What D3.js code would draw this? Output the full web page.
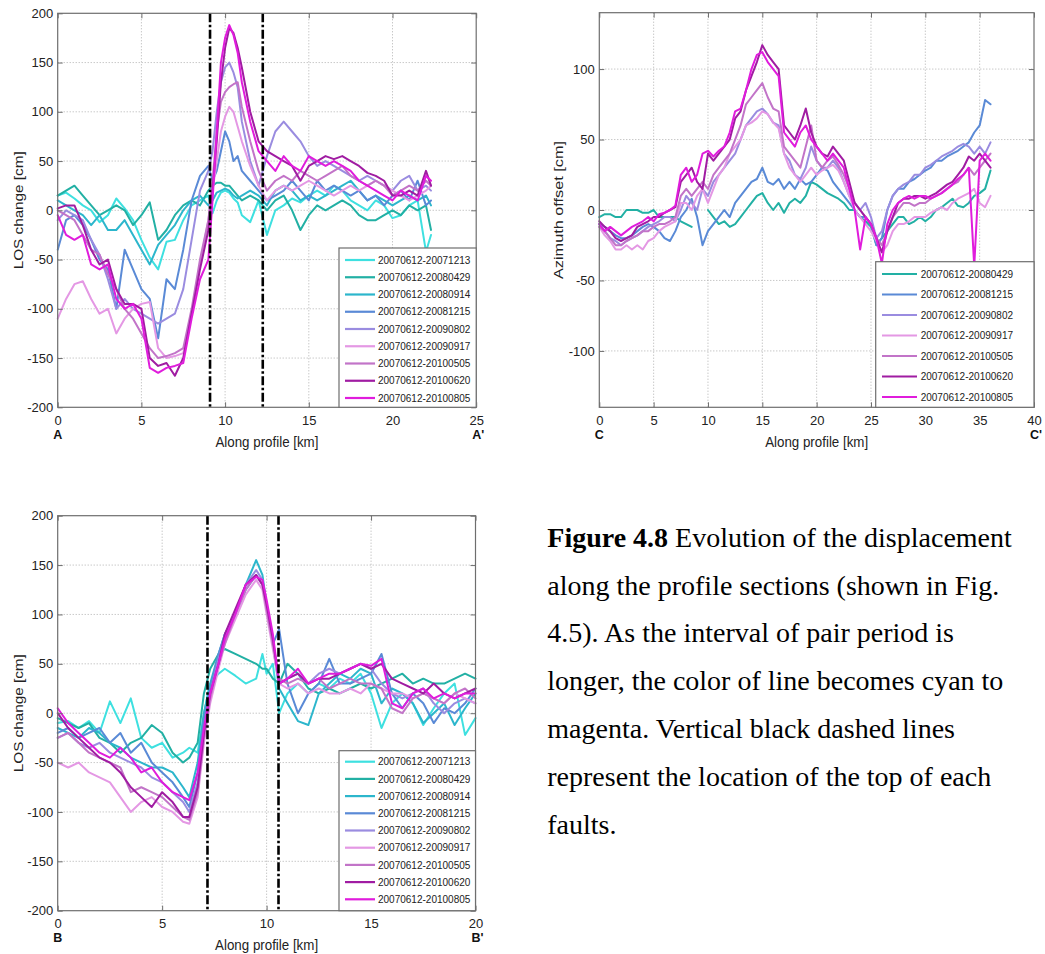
<!DOCTYPE html>
<html>
<head>
<meta charset="utf-8">
<script src="https://cdn.jsdelivr.net/npm/d3@7"></script>
<style>
  body { margin: 0; background: #ffffff; }
  svg text { font-family: "Liberation Sans", Arial, Helvetica, sans-serif; }
  .caption text { font-family: "Liberation Serif", "Times New Roman", serif; }
</style>
</head>
<body>
<svg id="fig" width="1045" height="954"></svg>
<script>
// ---------------------------------------------------------------------------
// Interferogram pairs (master 20070612) and their line colours, cyan -> magenta
// ---------------------------------------------------------------------------
const pairNames = [
  "20070612-20071213", "20070612-20080429", "20070612-20080914",
  "20070612-20081215", "20070612-20090802", "20070612-20090917",
  "20070612-20100505", "20070612-20100620", "20070612-20100805"
];
const pairColors = [
  "#3ee0e0", "#22b0a4", "#2cb6cc", "#5a8ad6", "#9a8ce0",
  "#e498e4", "#c274c8", "#a01ca2", "#e01cdc"
];
// Pairs available for the azimuth-offset profile C-C'
const pairNamesC = [
  "20070612-20080429", "20070612-20081215", "20070612-20090802",
  "20070612-20090917", "20070612-20100505", "20070612-20100620",
  "20070612-20100805"
];

// Tick values
const ticksLOS = [-200, -150, -100, -50, 0, 50, 100, 150, 200];
const ticksAz = [-100, -50, 0, 50, 100];
const ticksKmA = [0, 5, 10, 15, 20, 25];
const ticksKmB = [0, 5, 10, 15, 20];
const ticksKmC = [0, 5, 10, 15, 20, 25, 30, 35, 40];

// Fault-top positions along each profile [km]
const faultsA = [9.1, 12.25];
const faultsB = [7.17, 10.57];

// ---------------------------------------------------------------------------
// Profile A-A' : LOS change [cm]
// ---------------------------------------------------------------------------
const kmA = [0,0.5,1,1.5,2,2.5,3,3.5,4,4.5,5,5.5,6,6.5,7,7.5,8,8.5,9,9.25,
  9.5,9.75,10,10.25,10.5,10.75,11,11.5,12,12.5,13,13.5,14,14.5,15,15.5,16,16.5,17,17.5,
  18,18.5,19,19.5,20,20.5,21,21.5,22,22.3];
const losA = [
  [15,18,12,5,0,-12,-5,12,2,-10, -30,-48,-60,-32,-30,-10,5,10,15,-3,
   10,18,20,18,12,8,-5,-12,10,-25, 0,5,12,8,15,20,15,25,20,10, 5,0,10,5,-8,-5,5,10,-42,-25],
  [15,20,25,15,5,-5,0,5,0,-15, -5,8,-30,-20,-5,5,10,5,20,25,
   28,28,25,25,20,15,10,15,10,0, 10,15,0,-20,-5,5,0,5,10,5, -5,-10,-10,-5,0,-5,5,0,5,-20],
  [10,5,0,-5,-15,-5,-20,-20,-10,-25, -40,-55,-35,-25,-15,0,10,15,5,10,
   18,20,22,20,15,12,15,20,15,5, 20,25,20,10,15,10,15,20,25,30, 20,10,15,10,5,10,15,10,15,5],
  [-40,-10,-5,-15,-30,-50,-60,-100,-40,-60, -80,-90,-130,-70,-80,-40,10,35,45,30,
   40,60,80,70,50,55,40,30,20,10, 15,20,30,20,10,30,20,25,20,15, 20,10,15,5,15,20,10,30,5,10],
  [-10,0,-5,-10,-30,-45,-70,-100,-90,-100, -105,-110,-115,-110,-105,-80,-30,20,40,60,
   100,130,145,150,140,125,90,50,25,55, 80,90,80,70,55,45,50,45,40,35, 30,35,30,25,20,30,35,20,25,20],
  [-110,-90,-75,-72,-90,-105,-100,-125,-110,-100, -95,-93,-140,-150,-148,-145,-105,-55,-10,20,
   50,80,95,105,100,85,70,45,25,10, 20,25,20,25,30,25,20,15,20,25, 20,25,30,25,20,15,10,15,20,25],
  [0,-5,-10,-25,-40,-45,-65,-80,-100,-110, -125,-140,-150,-148,-145,-140,-100,-50,-10,30,
   80,110,120,125,128,130,105,70,40,20, 30,35,30,40,35,30,35,40,45,35, 30,25,30,25,15,20,25,20,30,25],
  [2,5,5,-15,-40,-55,-50,-80,-95,-95, -100,-150,-158,-155,-168,-150,-105,-60,-20,20,
   70,130,165,185,180,165,145,100,70,60, 55,50,45,30,45,50,55,52,55,50, 45,38,35,30,15,15,20,15,40,25],
  [-5,-25,-30,-25,-55,-60,-55,-90,-100,-95, -110,-160,-165,-160,-158,-155,-110,-70,-50,10,
   80,150,175,188,178,160,130,90,60,50, 40,55,45,40,55,50,45,50,45,40, 30,25,20,15,10,20,15,10,35,30]
];

// ---------------------------------------------------------------------------
// Profile B-B' : LOS change [cm]
// ---------------------------------------------------------------------------
const kmB = [0,0.5,1,1.5,2,2.5,3,3.5,4,4.5,5,5.5,6,6.3,6.7,7,7.3,7.7,8,8.5,
  9,9.5,9.8,10,10.3,10.6,11,11.5,12,12.5,13,13.5,14,14.5,15,15.5,16,16.5,17,17.5,
  18,18.5,19,19.5,20];
const losB = [
  [-10,-8,-15,-8,-20,12,-10,15,-25,-35, -30,-45,-40,-35,-40,0,30,40,45,38,
   30,35,60,40,50,0,20,30,20,30, 25,35,30,40,20,-15,10,20,10,-12, 5,20,30,-22,-5],
  [-5,-10,-15,-10,-25,-30,-40,-30,-25,-12, -20,-40,-50,-45,-30,20,45,60,65,60,
   55,50,45,45,35,30,50,40,25,20, 25,20,25,30,25,30,35,40,30,35, 30,30,35,40,35],
  [-15,-20,-25,-15,-20,-30,-35,-45,-50,-55, -55,-60,-75,-85,-50,0,30,60,80,100,
   130,155,140,110,70,25,10,-8,-12,20, 30,40,35,45,40,10,25,20,10,-10, 0,10,-12,5,20],
  [-20,-15,-25,-20,-15,-30,-20,-40,-30,-50, -60,-70,-85,-95,-60,-5,25,60,80,100,
   125,140,130,110,70,85,30,0,20,30, 55,30,30,35,40,60,20,5,20,10, -10,5,0,10,25],
  [-25,-20,-30,-35,-30,-40,-45,-50,-55,-65, -70,-80,-90,-100,-70,-20,20,55,75,100,
   130,145,135,110,70,30,35,40,30,40, 45,40,45,50,45,30,20,15,20,25, 10,0,10,15,10],
  [-50,-55,-50,-60,-65,-70,-85,-100,-90,-85, -95,-100,-110,-112,-85,-30,10,45,70,95,
   120,135,125,100,65,30,25,30,20,25, 20,20,25,20,30,25,20,20,15,20, 15,10,20,15,10],
  [-25,-20,-30,-40,-45,-50,-55,-80,-75,-80, -85,-95,-105,-108,-80,-25,15,50,70,100,
   125,140,130,105,70,35,30,35,30,35, 25,30,35,30,30,25,5,0,15,20, 15,10,20,25,15],
  [0,-15,-25,-35,-45,-50,-60,-75,-85,-95, -80,-90,-105,-105,-75,-20,20,50,80,105,
   130,140,130,110,75,30,35,40,30,35, 35,40,45,50,45,50,35,30,25,20, 30,20,15,20,25],
  [5,-10,-20,-30,-40,-45,-35,-45,-60,-55, -70,-80,-85,-88,-60,-15,20,50,75,100,
   130,138,135,115,80,30,35,45,30,35, 40,40,45,50,48,55,10,5,20,25, 15,20,15,20,20]
];

// ---------------------------------------------------------------------------
// Profile C-C' : azimuth offset [cm]
// ---------------------------------------------------------------------------
const kmC = d3.range(0, 36.01, 0.5);
const azC = [
  [-5,-3,-3,-5,-5,0,0,0,-2,-2, 0,-5,-5,-5,-5,-8,-10,-12,null,null,
   0,-5,-10,-8,-12,-10,-5,0,5,10, 12,5,0,5,-2,5,8,5,10,20,
   18,15,12,10,8,5,0,0,-5,-8, -12,-25,-20,-15,-10,-5,-5,-10,-8,-5,
   -8,-5,0,2,5,8,3,2,5,10, 12,15,28],
  [-10,-12,-15,-18,-20,-20,-18,-15,-12,-10, -12,-15,-20,-22,-15,-5,0,8,-5,-25,
   -15,-10,-5,0,-5,5,10,15,20,22, 30,20,18,22,15,20,15,22,18,20,
   25,30,28,20,15,10,5,0,-5,-5, -10,-25,-20,0,10,15,15,20,22,25,
   28,30,35,35,38,40,42,45,48,55, 60,78,75],
  [-10,-15,-20,-22,-25,-22,-20,-18,-15,-12, -10,-8,-5,-5,-8,0,10,5,0,15,
   10,20,25,30,35,40,50,60,65,70, 72,68,62,60,40,35,25,22,30,45,
   35,30,30,35,30,20,10,5,0,5, -5,-20,-15,0,10,15,18,20,25,25,
   30,32,35,38,40,42,45,47,45,40, 45,40,48],
  [-12,-18,-22,-28,-28,-25,-28,-25,-28,-22, -20,-15,-12,-10,-8,5,5,0,10,15,
   5,15,25,30,40,45,50,60,62,65, 70,68,62,58,40,30,25,20,25,30,
   25,28,30,32,28,20,10,0,-5,-10, -15,-22,-30,-25,-15,-10,-10,-8,-5,-5,
   -5,-2,0,2,0,5,8,10,12,15, 5,2,10],
  [-12,-15,-20,-25,-25,-22,-20,-18,-15,-15, -12,-10,-10,-8,-5,10,15,10,15,20,
   15,25,30,35,40,50,60,75,80,85, 90,80,72,70,45,40,35,30,45,60,
   35,30,35,38,32,25,15,5,0,-5, -10,-20,-25,-15,-5,0,5,5,3,5,
   5,8,10,12,15,18,20,25,30,25, 30,35,40],
  [-8,-12,-15,-20,-22,-20,-18,-12,-10,-8, -5,-5,-2,0,2,20,25,30,20,15,
   40,35,40,45,50,65,70,85,95,105, 117,110,105,100,60,55,50,60,72,55,
   45,40,38,45,40,35,20,5,0,-5, -10,-20,-30,-15,-5,5,8,8,10,10,
   8,10,12,15,18,20,25,30,38,35, 40,35,30],
  [-10,-15,-12,-15,-18,-15,-12,-10,-8,-5, -8,-3,-2,0,3,25,30,20,25,40,
   42,38,42,45,55,70,72,85,100,110, 112,105,100,95,55,50,45,55,60,50,
   45,40,35,40,35,30,15,0,-28,-5, -10,-20,-38,-10,0,5,8,10,8,10,
   10,8,10,12,15,18,22,25,30,-40, 35,40,35]
];

// ---------------------------------------------------------------------------
// Drawing
// ---------------------------------------------------------------------------
const svg = d3.select("#fig");
const axisColor = "#6e6e6e";
const gridColor = "#a8a8a8";

function colorOf(name) { return pairColors[pairNames.indexOf(name)]; }

function drawPanel(p) {
  const x = d3.scaleLinear().domain(p.xDomain).range([p.left, p.right]);
  const y = d3.scaleLinear().domain(p.yDomain).range([p.bottom, p.top]);
  const g = svg.append("g");

  // dotted grid at interior ticks
  g.append("g").selectAll("line")
    .data(p.xTicks.filter(t => t > p.xDomain[0] && t < p.xDomain[1]))
    .join("line")
    .attr("x1", d => x(d)).attr("x2", d => x(d))
    .attr("y1", p.top).attr("y2", p.bottom)
    .attr("stroke", gridColor).attr("stroke-width", 0.9).attr("stroke-dasharray", "1,2");
  g.append("g").selectAll("line")
    .data(p.yTicks.filter(t => t > p.yDomain[0] && t < p.yDomain[1]))
    .join("line")
    .attr("x1", p.left).attr("x2", p.right)
    .attr("y1", d => y(d)).attr("y2", d => y(d))
    .attr("stroke", gridColor).attr("stroke-width", 0.9).attr("stroke-dasharray", "1,2");

  // profiles
  const line = d3.line()
    .defined(d => d != null)
    .x((d, j) => x(p.xs[j]))
    .y(d => y(d));
  p.values.forEach((vals, i) => {
    g.append("path").datum(vals)
      .attr("d", line)
      .attr("fill", "none")
      .attr("stroke", colorOf(p.names[i]))
      .attr("stroke-width", 2)
      .attr("stroke-linejoin", "round")
      .attr("stroke-linecap", "round");
  });

  // fault tops (dash-dot)
  g.append("g").selectAll("line").data(p.faults || [])
    .join("line")
    .attr("x1", d => x(d)).attr("x2", d => x(d))
    .attr("y1", p.top).attr("y2", p.bottom)
    .attr("stroke", "#000").attr("stroke-width", 2.6)
    .attr("stroke-dasharray", "9,2.5,2.5,2.5");

  // axes with inward ticks on all four sides
  const styleAxis = sel => {
    sel.select(".domain").remove();
    sel.selectAll(".tick line").attr("stroke", axisColor);
    sel.selectAll(".tick text").attr("fill", "#222").style("font-size", "13px");
  };
  g.append("g").attr("transform", `translate(0,${p.bottom})`)
    .call(d3.axisBottom(x).tickValues(p.xTicks).tickSizeInner(-5).tickSizeOuter(0)
      .tickPadding(8.5).tickFormat(d => String(d)))
    .call(styleAxis);
  g.append("g").attr("transform", `translate(0,${p.top})`)
    .call(d3.axisTop(x).tickValues(p.xTicks).tickSizeInner(-5).tickSizeOuter(0).tickFormat(""))
    .call(styleAxis);
  g.append("g").attr("transform", `translate(${p.left},0)`)
    .call(d3.axisLeft(y).tickValues(p.yTicks).tickSizeInner(-5).tickSizeOuter(0)
      .tickPadding(4.5).tickFormat(d => String(d)))
    .call(styleAxis);
  g.append("g").attr("transform", `translate(${p.right},0)`)
    .call(d3.axisRight(y).tickValues(p.yTicks).tickSizeInner(-5).tickSizeOuter(0).tickFormat(""))
    .call(styleAxis);

  // axes box
  g.append("rect")
    .attr("x", p.left).attr("y", p.top)
    .attr("width", p.right - p.left).attr("height", p.bottom - p.top)
    .attr("fill", "none").attr("stroke", axisColor).attr("stroke-width", 1.2);

  // axis titles
  g.append("text")
    .attr("x", (p.left + p.right) / 2).attr("y", p.xTitleY)
    .attr("text-anchor", "middle").attr("fill", "#222")
    .style("font-size", "15px")
    .attr("textLength", 103).attr("lengthAdjust", "spacingAndGlyphs")
    .text("Along profile [km]");
  g.append("text")
    .attr("transform", `translate(${p.yTitleX},${(p.top + p.bottom) / 2}) rotate(-90)`)
    .attr("text-anchor", "middle").attr("fill", "#222")
    .style("font-size", "13px")
    .attr("textLength", p.yTitleLength).attr("lengthAdjust", "spacingAndGlyphs")
    .text(p.yTitle);

  // profile end-point names
  g.append("text").attr("x", p.left).attr("y", p.endLabelY)
    .attr("text-anchor", "middle").attr("font-weight", "bold").attr("fill", "#111")
    .style("font-size", "12.5px").text(p.ends[0]);
  g.append("text").attr("x", p.right + 2).attr("y", p.endLabelY)
    .attr("text-anchor", "middle").attr("font-weight", "bold").attr("fill", "#111")
    .style("font-size", "12.5px").text(p.ends[1]);

  // legend
  const L = p.legend;
  const lg = g.append("g");
  lg.append("rect")
    .attr("x", L.x0).attr("y", L.y0)
    .attr("width", L.x1 - L.x0).attr("height", L.y1 - L.y0)
    .attr("fill", "#fff").attr("stroke", axisColor).attr("stroke-width", 1.2);
  const rows = lg.selectAll("g.row").data(p.names).join("g")
    .attr("transform", (d, i) => `translate(0,${L.row0 + i * L.rowStep})`);
  rows.append("line")
    .attr("x1", L.sample[0]).attr("x2", L.sample[1])
    .attr("stroke", d => colorOf(d)).attr("stroke-width", 2.2);
  rows.append("text")
    .attr("x", L.textX).attr("y", 3.6)
    .attr("fill", "#222").style("font-size", "10px")
    .text(d => d);
}

drawPanel({
  xs: kmA, values: losA, names: pairNames,
  xDomain: [0, 25], yDomain: [-200, 200], xTicks: ticksKmA, yTicks: ticksLOS,
  left: 57.7, right: 476.2, top: 13.3, bottom: 407.3,
  faults: faultsA,
  xTitleY: 447, yTitleX: 22.5, yTitle: "LOS change [cm]", yTitleLength: 118,
  endLabelY: 438.5, ends: ["A", "A'"],
  legend: { x0: 339, y0: 248, x1: 476.2, y1: 407.3, row0: 260, rowStep: 17.25,
            sample: [345, 375], textX: 378 }
});

drawPanel({
  xs: kmB, values: losB, names: pairNames,
  xDomain: [0, 20], yDomain: [-200, 200], xTicks: ticksKmB, yTicks: ticksLOS,
  left: 57.7, right: 475.5, top: 515.7, bottom: 910.7,
  faults: faultsB,
  xTitleY: 950, yTitleX: 22.5, yTitle: "LOS change [cm]", yTitleLength: 118,
  endLabelY: 941.5, ends: ["B", "B'"],
  legend: { x0: 339, y0: 750.7, x1: 475.5, y1: 910.7, row0: 761.7, rowStep: 17.2,
            sample: [345, 375], textX: 378 }
});

drawPanel({
  xs: kmC, values: azC, names: pairNamesC,
  xDomain: [0, 40], yDomain: [-140, 140], xTicks: ticksKmC, yTicks: ticksAz,
  left: 599.3, right: 1034, top: 12.7, bottom: 407.3,
  faults: [],
  xTitleY: 446.5, yTitleX: 562.5, yTitle: "Azimuth offset [cm]", yTitleLength: 138,
  endLabelY: 439, ends: ["C", "C'"],
  legend: { x0: 875.7, y0: 261.7, x1: 1034, y1: 407.3, row0: 274, rowStep: 20.5,
            sample: [882, 917], textX: 920.7 }
});

// ---------------------------------------------------------------------------
// Figure caption
// ---------------------------------------------------------------------------
const captionLines = [
  "along the profile sections (shown in Fig.",
  "4.5). As the interval of pair period is",
  "longer, the color of line becomes cyan to",
  "magenta. Vertical black dashed lines",
  "represent the location of the top of each",
  "faults."
];
const cap = svg.append("g").attr("class", "caption");
const first = cap.append("text").attr("x", 547.3).attr("y", 546.7)
  .attr("fill", "#000").style("font-size", "28px");
first.append("tspan").attr("font-weight", "bold").text("Figure 4.8");
first.append("tspan").text(" Evolution of the displacement");
cap.selectAll("text.line").data(captionLines).join("text")
  .attr("class", "line")
  .attr("x", 547.3).attr("y", (d, i) => 546.7 + (i + 1) * 47.8)
  .attr("fill", "#000").style("font-size", "28px")
  .text(d => d);
</script>
</body>
</html>
